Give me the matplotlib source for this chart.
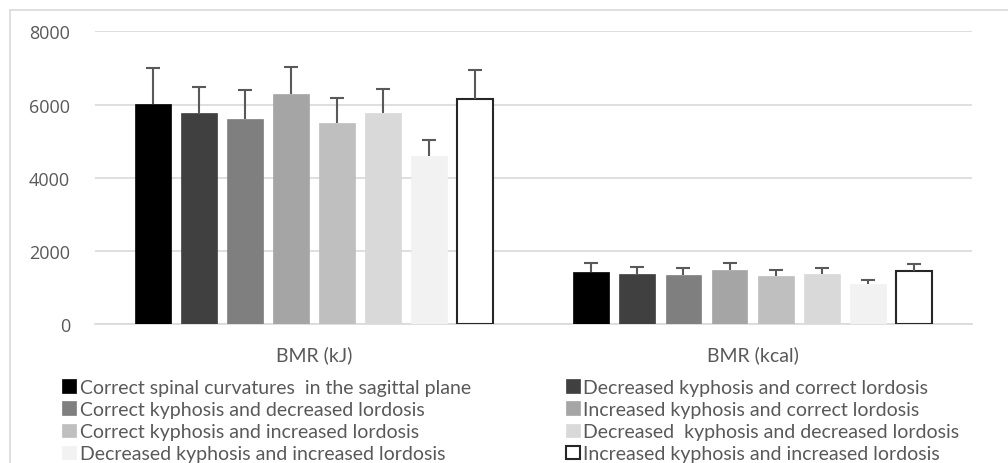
import numpy as np
import matplotlib.pyplot as plt
from matplotlib.patches import Rectangle

categories = ['BMR (kJ)', 'BMR (kcal)']
series = ['Correct spinal curvatures  in the sagittal plane',
          'Decreased kyphosis and correct lordosis',
          'Correct kyphosis and decreased lordosis',
          'Increased kyphosis and correct lordosis',
          'Correct kyphosis and increased lordosis',
          'Decreased  kyphosis and decreased lordosis',
          'Decreased kyphosis and increased lordosis',
          'Increased kyphosis and increased lordosis']
kj_mean = [6015, 5770, 5606, 6289, 5506, 5780, 4605, 6152]
kj_sd = [995, 720, 790, 750, 680, 655, 430, 800]
kcal_mean = [1428, 1365, 1338, 1483, 1302, 1365, 1092, 1456]
kcal_sd = [240, 180, 190, 190, 170, 160, 100, 190]
colors = ['#000000', '#404040', '#7f7f7f', '#a5a5a5',
          '#bfbfbf', '#d9d9d9', '#f2f2f2', '#ffffff']

plt.rcParams['font.family'] = ['Lato', 'DejaVu Sans']
txt = '#595959'

fig = plt.figure(figsize=(10.08, 4.64), dpi=100)
ax = fig.add_axes([0.0942, 0.2996, 0.8698, 0.6304])

# light frame around the chart area
fig.patches.append(Rectangle((10 / 1008, -0.05), 1.1, 1 - 11 / 464 + 0.05,
                             transform=fig.transFigure, fill=False,
                             ec='#d9d9d9', lw=1.2, zorder=0))

x = np.arange(len(categories))
width = 0.082
pitch = 0.105
handles = []
for i in range(len(series)):
    off = (i - 3.5) * pitch
    means = np.array([kj_mean[i], kcal_mean[i]])
    sds = np.array([kj_sd[i], kcal_sd[i]])
    ec = '#262626' if i == 7 else colors[i]
    b = ax.bar(x + off, means, width, color=colors[i], edgecolor=ec,
               lw=1.5 if i == 7 else 0.5, zorder=3, label=series[i])
    eb = ax.errorbar(x + off, means, yerr=[[0, 0], sds], fmt='none',
                     ecolor=txt, elinewidth=1.5, capsize=5, capthick=1.5, zorder=4)
    # only the upper cap, like the original
    for cl in eb[1]:
        if np.allclose(cl.get_ydata(), means):
            cl.set_visible(False)
    handles.append(b)

ax.set_xlim(-0.5, 1.5)
ax.set_ylim(0, 8000)
ax.set_yticks([0, 2000, 4000, 6000, 8000])
ax.set_xticks(x)
ax.set_xticklabels(categories)
ax.yaxis.grid(True, color='#d9d9d9', lw=1.2, zorder=0)
ax.tick_params(axis='both', length=0, labelsize=14, colors=txt)
ax.tick_params(axis='x', pad=15)
ax.tick_params(axis='y', pad=18)
for lab in ax.get_yticklabels():
    lab.set_family(['Open Sans', 'DejaVu Sans'])
    lab.set_fontsize(13)
for s in ['top', 'right', 'left']:
    ax.spines[s].set_visible(False)
ax.spines['bottom'].set_color('#d9d9d9')
ax.spines['bottom'].set_linewidth(1.2)

# legend is row-major in the original, matplotlib fills by column
order = [0, 2, 4, 6, 1, 3, 5, 7]
leg = fig.legend([handles[k] for k in order], [series[k] for k in order],
                 ncol=2, loc='upper left', bbox_to_anchor=(62 / 1008, 1 - 380 / 464),
                 frameon=False, fontsize=14, borderpad=0, borderaxespad=0,
                 handlelength=0.7, handleheight=0.7, handletextpad=0.2,
                 labelspacing=0.26, columnspacing=4.9, labelcolor=txt)

fig.savefig('out.png', dpi=100)
